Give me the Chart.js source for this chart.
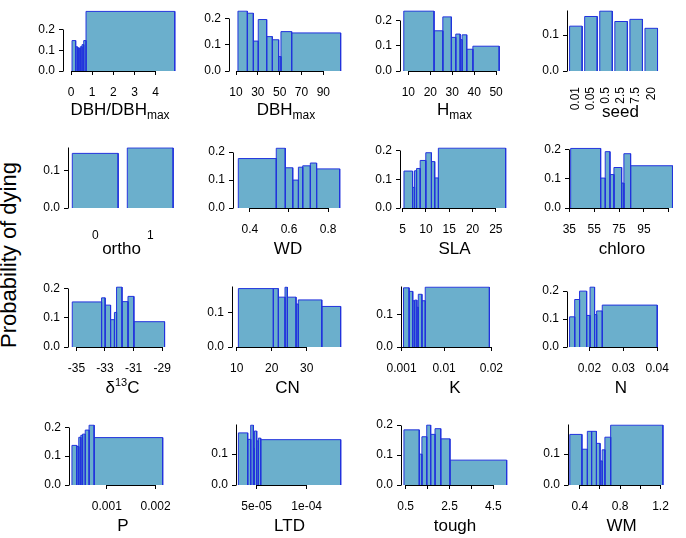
<!DOCTYPE html>
<html>
<head>
<meta charset="utf-8">
<script src="https://cdn.jsdelivr.net/npm/chart.js@4.4.0/dist/chart.umd.min.js"></script>
<style>
body { margin: 0; background: #fff; }
#wrap { position: relative; width: 686px; height: 538px; overflow: hidden; font-family: "Liberation Sans", Arial, sans-serif; color: #000; }
#wrap canvas { position: absolute; }
.ttl { position: absolute; font-size: 17px; line-height: 17px; white-space: nowrap; transform: translateX(-50%); }
.ttl sub { font-size: 12px; vertical-align: -4px; line-height: 0; }
.ttl sup { font-size: 11px; vertical-align: 7px; line-height: 0; }
#ylab { position: absolute; left: 9px; top: 255px; font-size: 22px; line-height: 22px; white-space: nowrap; transform: translate(-50%, -50%) rotate(-90deg); }
</style>
</head>
<body>
<div id="wrap">
  <div id="ylab">Probability of dying</div>
</div>
<script>
// bin edges and probability of dying per bin, one pair per trait
var dbhRelEdges = [0.05, 0.22, 0.30, 0.37, 0.44, 0.52, 0.60, 0.71, 4.9];
var dbhRelProb = [0.148, 0.118, 0.113, 0.110, 0.118, 0.128, 0.148, 0.290];
var dbhRelTicks = [0, 1, 2, 3, 4];
var dbhRelLabels = ['0', '1', '2', '3', '4'];

var dbhMaxEdges = [11.8, 20.4, 25.9, 30.4, 38.1, 43.3, 49.1, 51.2, 61.0, 105.9];
var dbhMaxProb = [0.228, 0.220, 0.114, 0.196, 0.131, 0.119, 0.055, 0.150, 0.145];
var dbhMaxTicks = [10, 30, 50, 70, 90];
var dbhMaxLabels = ['10', '30', '50', '70', '90'];

var hMaxEdges = [7.9, 21.7, 25.7, 29.6, 31.6, 33.6, 34.5, 36.6, 39.4, 51.4];
var hMaxProb = [0.237, 0.159, 0.214, 0.133, 0.146, 0.124, 0.143, 0.086, 0.098];
var hMaxTicks = [10, 20, 30, 40, 50];
var hMaxLabels = ['10', '20', '30', '40', '50'];

var seedCats = ['0.01', '0.05', '0.5', '2.5', '7.5', '20'];
var seedProb = [0.125, 0.152, 0.167, 0.138, 0.144, 0.119];

var orthoCats = ['0', '1'];
var orthoProb = [0.1455, 0.160];

var wdEdges = [0.341, 0.535, 0.581, 0.619, 0.648, 0.670, 0.709, 0.741, 0.859];
var wdProb = [0.177, 0.214, 0.144, 0.100, 0.146, 0.151, 0.161, 0.140];
var wdTicks = [0.4, 0.6, 0.8];
var wdLabels = ['0.4', '0.6', '0.8'];

var slaEdges = [5.28, 7.13, 7.55, 7.98, 8.76, 9.96, 11.17, 11.87, 12.66, 27.1];
var slaProb = [0.129, 0.072, 0.130, 0.138, 0.166, 0.193, 0.162, 0.105, 0.209];
var slaTicks = [5, 10, 15, 20, 25];
var slaLabels = ['5', '10', '15', '20', '25'];

var chloroEdges = [36.1, 60.2, 63.9, 67.7, 70.9, 77.1, 78.9, 84.3, 118];
var chloroProb = [0.203, 0.102, 0.192, 0.114, 0.138, 0.085, 0.185, 0.144];
var chloroTicks = [35, 55, 75, 95, 115];
var chloroLabels = ['35', '55', '75', '95', ''];

var d13cEdges = [-35.29, -33.24, -32.99, -32.61, -32.34, -32.19, -31.81, -31.39, -30.98, -28.83];
var d13cProb = [0.155, 0.169, 0.144, 0.094, 0.119, 0.206, 0.156, 0.174, 0.087];
var d13cTicks = [-35, -33, -31, -29];
var d13cLabels = ['-35', '-33', '-31', '-29'];

var cnEdges = [10.48, 20.47, 21.9, 23.8, 24.47, 26.95, 27.6, 34.3, 39.7];
var cnProb = [0.170, 0.170, 0.145, 0.174, 0.145, 0.125, 0.137, 0.118];
var cnTicks = [10, 20, 30];
var cnLabels = ['10', '20', '30'];

var kEdges = [0.00141, 0.00259, 0.00336, 0.00377, 0.00424, 0.00454, 0.0053, 0.00601, 0.01959];
var kProb = [0.183, 0.172, 0.143, 0.145, 0.123, 0.163, 0.143, 0.185];
var kTicks = [0.001, 0.01, 0.02];
var kLabels = ['0.001', '0.01', '0.02'];

var nEdges = [0.01413, 0.01564, 0.01708, 0.01917, 0.02018, 0.02151, 0.02212, 0.02378, 0.04];
var nProb = [0.108, 0.170, 0.200, 0.113, 0.2145, 0.116, 0.129, 0.150];
var nTicks = [0.02, 0.03, 0.04];
var nLabels = ['0.02', '0.03', '0.04'];

var pEdges = [0.000284, 0.000382, 0.000424, 0.000466, 0.000502, 0.000557, 0.000636, 0.000739, 0.002145];
var pProb = [0.137, 0.133, 0.165, 0.172, 0.176, 0.190, 0.207, 0.164];
var pTicks = [0.001, 0.002];
var pLabels = ['0.001', '0.002'];

var ltdEdges = [3.17e-5, 4.1e-5, 4.4e-5, 4.67e-5, 4.77e-5, 5.0e-5, 5.17e-5, 5.4e-5, 1.34e-4];
var ltdProb = [0.169, 0.148, 0.194, 0.119, 0.175, 0.143, 0.152, 0.147];
var ltdTicks = [5e-5, 1e-4];
var ltdLabels = ['5e-05', '1e-04'];

var toughEdges = [0.42, 1.12, 1.24, 1.46, 1.64, 1.84, 2.10, 2.52, 5.11];
var toughProb = [0.184, 0.103, 0.161, 0.200, 0.169, 0.188, 0.154, 0.083];
var toughTicks = [0.5, 1.5, 2.5, 3.5, 4.5];
var toughLabels = ['0.5', '', '2.5', '', '4.5'];

var wmEdges = [0.301, 0.421, 0.475, 0.517, 0.565, 0.601, 0.622, 0.649, 0.706, 1.224];
var wmProb = [0.164, 0.116, 0.174, 0.174, 0.135, 0.078, 0.114, 0.155, 0.194];
var wmTicks = [0.4, 0.6, 0.8, 1.0, 1.2];
var wmLabels = ['0.4', '', '0.8', '', '1.2'];

var yTickVals = [0, 0.1, 0.2];

var FILL = '#6BAFCC', EDGE = '#2233DD';
var YW = 45, PT = 3, PR = 4, XH = 40;

Chart.defaults.font.family = '"Liberation Sans", Arial, sans-serif';
Chart.defaults.font.size = 12;
Chart.defaults.color = '#000';

// where each panel sits: L = y axis x, B = y of zero, ky = px per unit,
// ref = two (value, px) pairs that fix the x scale
var panels = [
    {edges: dbhRelEdges, prob: dbhRelProb, ticks: dbhRelTicks, labels: dbhRelLabels, title: 'DBH/DBH<sub>max</sub>', L: 63, B: 71, ky: 233.3, ref: [0, 71, 4, 155.7], raise: true},
    {edges: dbhMaxEdges, prob: dbhMaxProb, ticks: dbhMaxTicks, labels: dbhMaxLabels, title: 'DBH<sub>max</sub>', L: 229, B: 71, ky: 298, ref: [10, 236, 90, 323.3], raise: true},
    {edges: hMaxEdges, prob: hMaxProb, ticks: hMaxTicks, labels: hMaxLabels, title: 'H<sub>max</sub>', L: 400, B: 71, ky: 287, ref: [10, 409, 50, 503.3], raise: true},
    {cats: seedCats, prob: seedProb, title: 'seed', L: 567, B: 71, ky: 407, ref: [0.2, 570, 1.4, 587.45], rot: 90},
    {cats: orthoCats, prob: orthoProb, title: 'ortho', L: 68, B: 208, ky: 426, ref: [0.2, 72.3, 1.4, 127.3]},
    {edges: wdEdges, prob: wdProb, ticks: wdTicks, labels: wdLabels, title: 'WD', L: 233, B: 208, ky: 317, ref: [0.4, 250, 0.8, 329]},
    {edges: slaEdges, prob: slaProb, ticks: slaTicks, labels: slaLabels, title: 'SLA', L: 400, B: 208, ky: 325, ref: [5, 402.7, 25, 496.7]},
    {edges: chloroEdges, prob: chloroProb, ticks: chloroTicks, labels: chloroLabels, title: 'chloro', L: 569, B: 208, ky: 333, ref: [35, 569.3, 95, 644]},
    {edges: d13cEdges, prob: d13cProb, ticks: d13cTicks, labels: d13cLabels, title: '&delta;<sup>13</sup>C', L: 68, B: 347, ky: 330, ref: [-35, 77.3, -29, 172]},
    {edges: cnEdges, prob: cnProb, ticks: cnTicks, labels: cnLabels, title: 'CN', L: 232, B: 347, ky: 390, ref: [10, 236.7, 30, 306.7]},
    {edges: kEdges, prob: kProb, ticks: kTicks, labels: kLabels, title: 'K', L: 401, B: 347, ky: 367, ref: [0.001, 401.7, 0.02, 509]},
    {edges: nEdges, prob: nProb, ticks: nTicks, labels: nLabels, title: 'N', L: 567, B: 347, ky: 317, ref: [0.02, 593.3, 0.04, 672.7]},
    {edges: pEdges, prob: pProb, ticks: pTicks, labels: pLabels, title: 'P', L: 69, B: 485, ky: 328, ref: [0.001, 111.7, 0.002, 166.7]},
    {edges: ltdEdges, prob: ltdProb, ticks: ltdTicks, labels: ltdLabels, title: 'LTD', L: 236, B: 485, ky: 350, ref: [5e-5, 256.7, 1e-4, 306.7]},
    {edges: toughEdges, prob: toughProb, ticks: toughTicks, labels: toughLabels, title: 'tough', L: 401, B: 485, ky: 340, ref: [0.5, 405.7, 4.5, 493.3]},
    {edges: wmEdges, prob: wmProb, ticks: wmTicks, labels: wmLabels, title: 'WM', L: 568, B: 485, ky: 350, ref: [0.4, 581, 1.2, 670]}
];

// R style axis lines: only from first to last tick
var axisLines = {
    id: 'axisLines',
    beforeDatasetsDraw: function(chart, args, opts) {
        var ctx = chart.ctx, xs = chart.scales.x, ys = chart.scales.y;
        var al = function(p) { return Math.round(p - 0.5) + 0.5; };
        ctx.save();
        ctx.strokeStyle = '#000';
        ctx.lineWidth = 1;
        ctx.beginPath();
        var yt = ys.ticks.map(function(t) { return t.value; });
        var lx = al(ys.right);
        var ytop = Math.min(yt[yt.length - 1], ys.max);
        if (yt.length < 3) ytop = ys.max;
        ctx.moveTo(lx, al(ys.getPixelForValue(0)));
        ctx.lineTo(lx, al(ys.getPixelForValue(ytop)));
        if (opts.xLine) {
            var xt = xs.ticks.map(function(t) { return t.value; });
            var ly = al(xs.top);
            ctx.moveTo(al(xs.getPixelForValue(xt[0])), ly);
            ctx.lineTo(al(xs.getPixelForValue(xt[xt.length - 1])), ly);
        }
        ctx.stroke();
        ctx.restore();
    }
};

function barSets(lefts, rights, prob) {
    var sets = prob.map(function(p, i) {
        return {
            data: [{x: lefts[i], y: 0}, {x: lefts[i], y: p}, {x: rights[i], y: p}, {x: rights[i], y: 0}],
            backgroundColor: FILL,
            borderColor: EDGE,
            borderWidth: 1,
            fill: 'origin',
            pointRadius: 0,
            tension: 0
        };
    });
    // bottom edges of the bars
    lefts.forEach(function(l, i) {
        sets.push({
            data: [{x: l, y: 0}, {x: rights[i], y: 0}],
            borderColor: EDGE,
            borderWidth: 1,
            fill: false,
            pointRadius: 0
        });
    });
    return sets;
}

var wrap = document.getElementById('wrap');

panels.forEach(function(pn) {
    var lefts, rights, ticks, labels;
    if (pn.cats) {
        lefts = pn.cats.map(function(c, i) { return 0.2 + 1.2 * i; });
        rights = lefts.map(function(v) { return v + 1; });
        ticks = lefts.map(function(v) { return v + 0.5; });
        labels = pn.cats;
    } else {
        lefts = pn.edges.slice(0, -1);
        rights = pn.edges.slice(1);
        ticks = pn.ticks;
        labels = pn.labels;
    }
    var v1 = pn.ref[0], p1 = pn.ref[1], v2 = pn.ref[2], p2 = pn.ref[3];
    var kx = (p2 - p1) / (v2 - v1);
    var valAt = function(px) { return v1 + (px - p1) / kx; };
    var L = pn.L, B = pn.B;
    var R = Math.round(p1 + (rights[rights.length - 1] - v1) * kx) + 2;
    var maxH = Math.max.apply(null, pn.prob);
    var T = Math.round(B - maxH * pn.ky) - 1;
    var xmin = valAt(L), xmax = valAt(R), ymax = (B - T) / pn.ky;
    var rot = pn.rot || 0;

    var cv = document.createElement('canvas');
    var w = R - L + YW + PR, h = B - T + PT + XH;
    cv.width = w; cv.height = h;
    cv.style.left = (L - YW) + 'px';
    cv.style.top = (T - PT) + 'px';
    cv.style.width = w + 'px';
    cv.style.height = h + 'px';
    wrap.appendChild(cv);

    new Chart(cv, {
        type: 'line',
        data: {datasets: barSets(lefts, rights, pn.prob)},
        plugins: [axisLines],
        options: {
            responsive: false,
            animation: false,
            devicePixelRatio: 1,
            events: [],
            layout: {padding: {top: PT, right: PR, left: 0, bottom: 0}},
            plugins: {
                legend: {display: false},
                tooltip: {enabled: false},
                axisLines: {xLine: !pn.cats}
            },
            scales: {
                x: {
                    type: 'linear',
                    min: xmin,
                    max: xmax,
                    afterFit: function(s) { s.height = XH; },
                    afterBuildTicks: function(s) {
                        s.ticks = ticks.filter(function(v) { return v >= xmin && v <= xmax; })
                            .map(function(v) { return {value: v}; });
                    },
                    grid: {display: !pn.cats, drawOnChartArea: false, drawTicks: true, tickLength: 4, color: '#000', lineWidth: 1},
                    border: {display: false},
                    ticks: {
                        autoSkip: false,
                        minRotation: rot,
                        maxRotation: rot,
                        padding: pn.cats ? (rot ? 12 : 16) : 10,
                        callback: function(v) {
                            var i = ticks.indexOf(v);
                            return i < 0 ? '' : labels[i];
                        }
                    }
                },
                y: {
                    min: 0,
                    max: ymax,
                    afterFit: function(s) { s.width = YW; },
                    afterBuildTicks: function(s) {
                        s.ticks = yTickVals.filter(function(v) { return v <= ymax + 1e-9; })
                            .map(function(v) { return {value: v}; });
                    },
                    grid: {drawOnChartArea: false, drawTicks: true, tickLength: 4, color: '#000', lineWidth: 1},
                    border: {display: false},
                    ticks: {
                        padding: 4,
                        callback: function(v) { return v.toFixed(1); }
                    }
                }
            }
        }
    });

    var t = document.createElement('div');
    t.className = 'ttl';
    t.innerHTML = pn.title;
    t.style.left = ((L + R) / 2) + 'px';
    t.style.top = (B + (pn.raise ? 44 : 46.5) - 14.4) + 'px';
    wrap.appendChild(t);
});
</script>
</body>
</html>
